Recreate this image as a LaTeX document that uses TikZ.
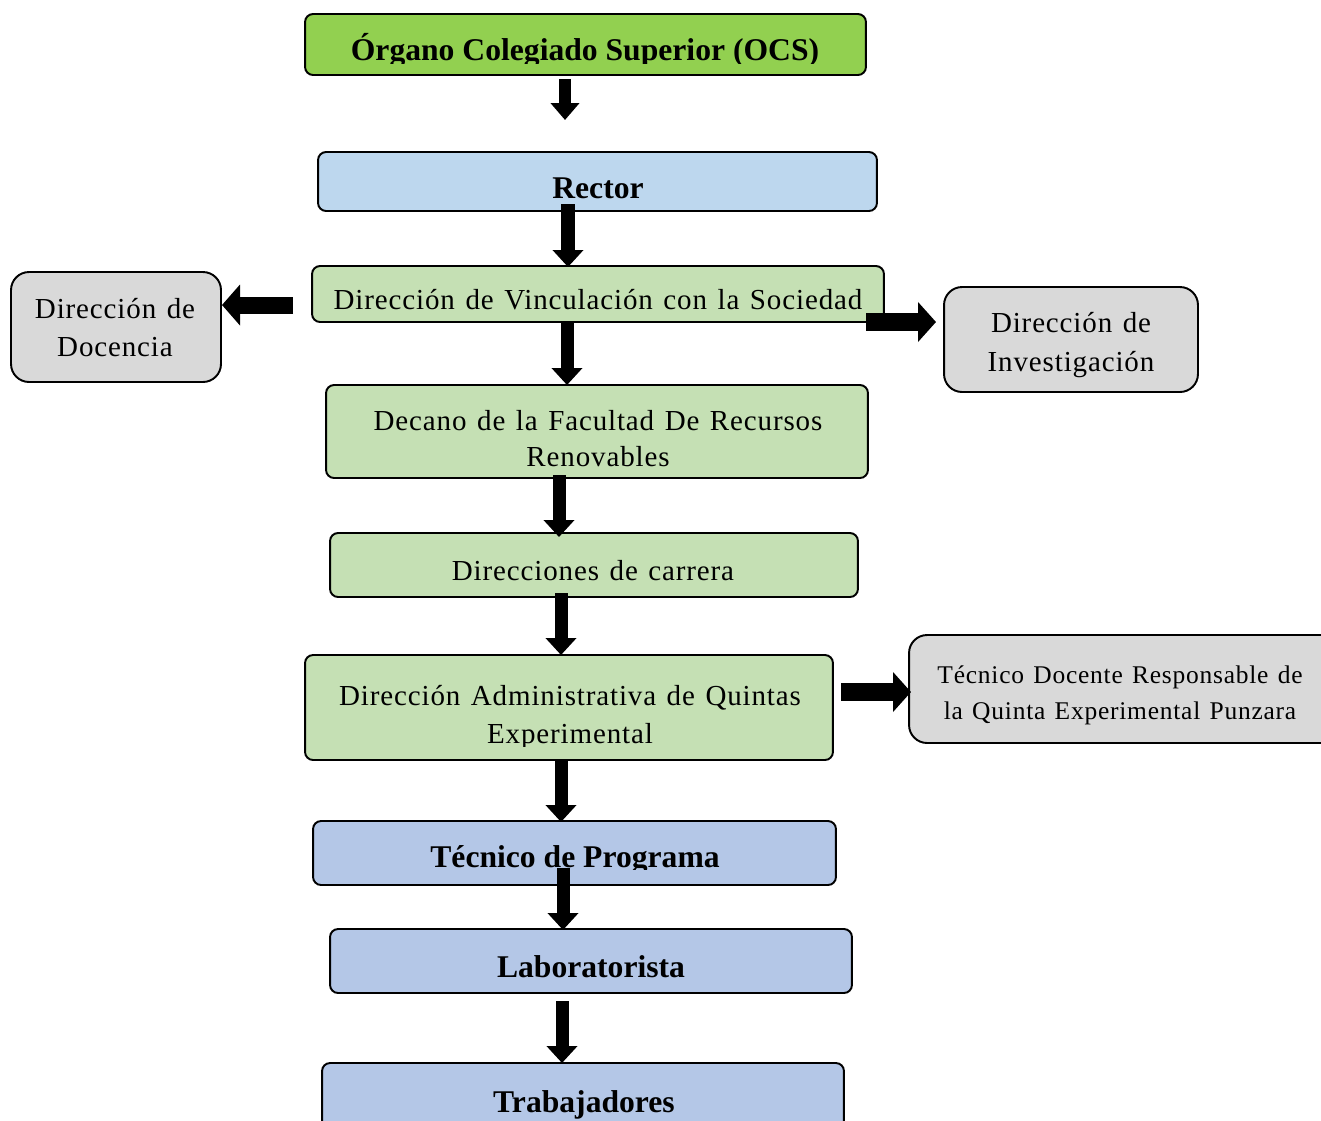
\documentclass[tikz,border=0pt]{standalone}
\usepackage{fontspec}
\setmainfont{Liberation Serif}
\newfontfamily\widefont[LetterSpace=3.0,WordSpace=1.3]{Liberation Serif}
\usetikzlibrary{arrows.meta}
\definecolor{ocsg}{HTML}{92D050}
\definecolor{rectb}{HTML}{BDD7EE}
\definecolor{lgreen}{HTML}{C5E0B4}
\definecolor{grayf}{HTML}{D9D9D9}
\definecolor{blueb}{HTML}{B4C7E7}
\tikzset{
  box/.style={draw=black, line width=1.1pt, rounded corners=0.16cm, inner sep=0pt, outer sep=0pt},
  gbox/.style={box, rounded corners=0.36cm, fill=grayf},
  bt/.style={font=\fontsize{18}{20}\selectfont\bfseries, anchor=base, inner sep=0pt},
  rt/.style={font=\widefont\fontsize{16.5}{18}\selectfont, anchor=base, inner sep=0pt},
  st/.style={font=\widefont\fontsize{14.5}{16}\selectfont, anchor=base, inner sep=0pt},
  vblk/.style={line width=0.26cm, -{Triangle[length=0.34cm,width=0.6cm]}},
  hblk/.style={line width=0.36cm, -{Triangle[length=0.36cm,width=0.78cm]}},
}
\begin{document}
\begin{tikzpicture}[x=0.02cm,y=-0.02cm]
\useasboundingbox (0,0) rectangle (1321,1120);
% boxes
\node[box, fill=ocsg, minimum width=11.22cm, minimum height=1.22cm] (ocs) at (585.5,44.5) {};
\node[box, fill=rectb, minimum width=11.18cm, minimum height=1.18cm] (rector) at (597.5,181.5) {};
\node[box, fill=lgreen, minimum width=11.44cm, minimum height=1.12cm] (vinc) at (598,294) {};
\node[gbox, minimum width=4.2cm, minimum height=2.2cm] (doc) at (116,327) {};
\node[gbox, minimum width=5.08cm, minimum height=2.1cm] (inv) at (1071,339.5) {};
\node[box, fill=lgreen, minimum width=10.84cm, minimum height=1.86cm] (dec) at (597,431.5) {};
\node[box, fill=lgreen, minimum width=10.56cm, minimum height=1.28cm] (car) at (594,565) {};
\node[box, fill=lgreen, minimum width=10.56cm, minimum height=2.1cm] (qui) at (569,707.5) {};
\node[gbox, minimum width=8.62cm, minimum height=2.16cm] (tdoc) at (1124.5,689) {};
\node[box, fill=blueb, minimum width=10.46cm, minimum height=1.28cm] (tprog) at (574.5,853) {};
\node[box, fill=blueb, minimum width=10.44cm, minimum height=1.28cm] (lab) at (591,961) {};
\node[box, fill=blueb, minimum width=10.44cm, minimum height=1.74cm] (trab) at (583,1106.5) {};
% texts
\begin{scope}
\clip (305,14) rectangle (866,63);
\node[bt] (t-ocs) at (585,60) {Órgano Colegiado Superior (OCS)};
\end{scope}
\node[bt] (t-rector) at (598,198) {Rector};
\node[rt] (t-vinc) at (598,309) {Dirección de Vinculación con la Sociedad};
\node[rt] (t-doc1) at (115,318) {Dirección de};
\node[rt] (t-doc2) at (115,356) {Docencia};
\node[rt] (t-inv1) at (1071,332) {Dirección de};
\node[rt] (t-inv2) at (1071,371) {Investigación};
\node[rt] (t-dec1) at (598,430) {Decano de la Facultad De Recursos};
\node[rt] (t-dec2) at (598,466) {Renovables};
\node[rt] (t-car) at (593,580) {Direcciones de carrera};
\begin{scope}
\clip (305,655) rectangle (833,746);
\node[rt] (t-qui1) at (570,705) {Dirección Administrativa de Quintas};
\node[rt] (t-qui2) at (570,743) {Experimental};
\end{scope}
\node[st] (t-tdoc1) at (1120,683) {Técnico Docente Responsable de};
\node[st] (t-tdoc2) at (1120,719) {la Quinta Experimental Punzara};
\begin{scope}
\clip (313,821) rectangle (836,869);
\node[bt] (t-tprog) at (575,867) {Técnico de Programa};
\end{scope}
\node[bt] (t-lab) at (591,977) {Laboratorista};
\node[bt] (t-trab) at (584,1112) {Trabajadores};
% arrow endpoints
\coordinate (a1s) at (565,79);   \coordinate (a1e) at (565,120);
\coordinate (a2s) at (568,204);  \coordinate (a2e) at (568,267);
\coordinate (a3s) at (293,305);  \coordinate (a3e) at (222,305);
\coordinate (a4s) at (866,322);  \coordinate (a4e) at (936,322);
\coordinate (a5s) at (567,322);  \coordinate (a5e) at (567,385);
\coordinate (a6s) at (559,475);  \coordinate (a6e) at (559,537);
\coordinate (a7s) at (561,593);  \coordinate (a7e) at (561,655);
\coordinate (a8s) at (561,760);  \coordinate (a8e) at (561,822);
\coordinate (a9s) at (841,692);  \coordinate (a9e) at (911,692);
\coordinate (a10s) at (563,868); \coordinate (a10e) at (563,930);
\coordinate (a11s) at (562,1001);\coordinate (a11e) at (562,1063);
\draw[vblk, line width=0.24cm, -{Triangle[length=0.34cm,width=0.56cm]}] (a1s) -- (a1e);
\draw[vblk, line width=0.28cm] (a2s) -- (a2e);
\draw[hblk, line width=0.34cm, -{Triangle[length=0.36cm,width=0.8cm]}] (a3s) -- (a3e);
\draw[hblk] (a4s) -- (a4e);
\draw[vblk] (a5s) -- (a5e);
\draw[vblk] (a6s) -- (a6e);
\draw[vblk] (a7s) -- (a7e);
\draw[vblk] (a8s) -- (a8e);
\draw[hblk] (a9s) -- (a9e);
\draw[vblk] (a10s) -- (a10e);
\draw[vblk] (a11s) -- (a11e);
\end{tikzpicture}
\end{document}
